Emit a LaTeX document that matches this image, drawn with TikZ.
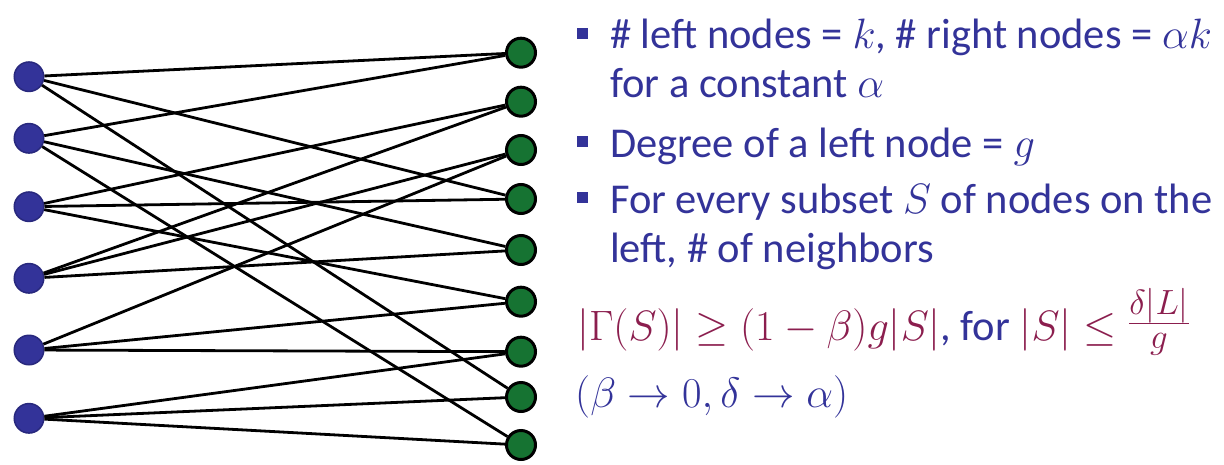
\RequirePackage{fix-cm}
\documentclass[tikz,border=0pt]{standalone}
\usepackage{fontspec}
\setmainfont{Carlito}
\definecolor{tblue}{RGB}{51,51,153}
\definecolor{tred}{RGB}{139,30,78}
\definecolor{ngreen}{RGB}{22,115,50}
\definecolor{lborder}{RGB}{40,40,125}
\newcommand{\fracpart}[1]{\mbox{\fontsize{35}{35}\selectfont$#1$}}
\begin{document}
\begin{tikzpicture}[x=1pt,y=-1pt,
  lnode/.style={circle,fill=tblue,draw=lborder,line width=1.5pt,minimum size=29.5pt,inner sep=0pt},
  rnode/.style={circle,fill=ngreen,draw=black,line width=3pt,minimum size=29pt,inner sep=0pt},
  edge/.style={line width=2.8pt,black},
  txt/.style={anchor=base west,inner sep=0pt,text=tblue,font=\fontsize{42.5}{50}\selectfont},
  bul/.style={fill=tblue,minimum size=11pt,inner sep=0pt}
]
\useasboundingbox (0,0) rectangle (1224,464);
% left nodes
\node[lnode] (L1) at (29,76.7) {};
\node[lnode] (L2) at (29,138.3) {};
\node[lnode] (L3) at (29,206.7) {};
\node[lnode] (L4) at (29,278.3) {};
\node[lnode] (L5) at (29,350) {};
\node[lnode] (L6) at (29,418.3) {};
% right nodes
\node[rnode] (R1) at (521,52.7) {};
\node[rnode] (R2) at (521,101.7) {};
\node[rnode] (R3) at (521,150) {};
\node[rnode] (R4) at (521,199) {};
\node[rnode] (R5) at (521,250) {};
\node[rnode] (R6) at (521,301.7) {};
\node[rnode] (R7) at (521,351.7) {};
\node[rnode] (R8) at (521,397) {};
\node[rnode] (R9) at (521,445) {};
% edges
\draw[edge] (L1) -- (R1); \draw[edge] (L1) -- (R4); \draw[edge] (L1) -- (R8);
\draw[edge] (L2) -- (R1); \draw[edge] (L2) -- (R5); \draw[edge] (L2) -- (R9);
\draw[edge] (L3) -- (R2); \draw[edge] (L3) -- (R4); \draw[edge] (L3) -- (R6);
\draw[edge] (L4) -- (R2); \draw[edge] (L4) -- (R3); \draw[edge] (L4) -- (R5);
\draw[edge] (L5) -- (R3); \draw[edge] (L5) -- (R6); \draw[edge] (L5) -- (R7);
\draw[edge] (L6) -- (R7); \draw[edge] (L6) -- (R8); \draw[edge] (L6) -- (R9);
% bullets
\node[bul] (b1) at (582.5,33) {};
\node[bul] (b2) at (582.5,141.5) {};
\node[bul] (b3) at (582.5,197.5) {};
% text
\node[txt] (t1) at (610,48) {\# left nodes = $k$, \# right nodes = $\alpha k$};
\node[txt] (t2) at (610,97) {for a constant $\alpha$};
\node[txt] (t3) at (610,157) {Degree of a left node = $g$};
\node[txt] (t4) at (610,213) {For every subset $S$ of nodes on the};
\node[txt] (t5) at (610,262) {left, \# of neighbors};
\node[txt] (t6) at (577,340) {\textcolor{tred}{$|\Gamma(S)|\geq(1-\beta)g|S|$}, for \textcolor{tred}{$|S|\leq\raisebox{6pt}{$\frac{\fracpart{\delta|L|}}{\fracpart{g}}$}$}};
\node[txt] (t7) at (575,407) {$(\beta\rightarrow0,\delta\rightarrow\alpha)$};
\end{tikzpicture}
\end{document}
